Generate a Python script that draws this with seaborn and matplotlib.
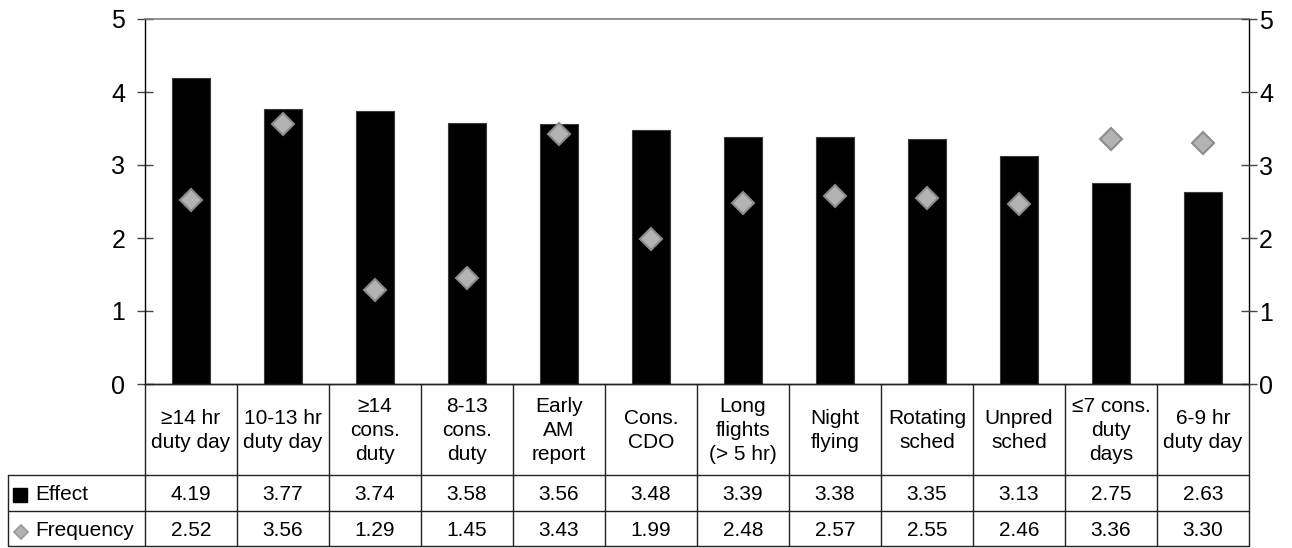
import matplotlib
matplotlib.use("Agg")
import matplotlib.pyplot as plt
import seaborn as sns
import numpy as np
import pandas as pd
from matplotlib.patches import Rectangle

categories = ["≥14 hr\nduty day", "10-13 hr\nduty day", "≥14\ncons.\nduty", "8-13\ncons.\nduty",
              "Early\nAM\nreport", "Cons.\nCDO", "Long\nflights\n(> 5 hr)", "Night\nflying",
              "Rotating\nsched", "Unpred\nsched", "≤7 cons.\nduty\ndays", "6-9 hr\nduty day"]
effect = [4.19, 3.77, 3.74, 3.58, 3.56, 3.48, 3.39, 3.38, 3.35, 3.13, 2.75, 2.63]
frequency = [2.52, 3.56, 1.29, 1.45, 3.43, 1.99, 2.48, 2.57, 2.55, 2.46, 3.36, 3.30]
series_names = ["Effect", "Frequency"]
yticks = [0, 1, 2, 3, 4, 5]

sns.set_style("white")
plt.rcParams['font.family'] = ['Liberation Sans', 'DejaVu Sans']
plt.rcParams['text.color'] = 'black'
plt.rcParams['ytick.labelcolor'] = 'black'

W, H = 1292, 548
fig = plt.figure(figsize=(W / 100, H / 100), dpi=100)

# pixel layout
ax_l, ax_r, ax_t, ax_b = 145, 1249, 19, 384
ax = fig.add_axes([ax_l / W, 1 - ax_b / H, (ax_r - ax_l) / W, (ax_b - ax_t) / H])

df = pd.DataFrame({"cat": categories, "effect": effect, "freq": frequency})
n = len(categories)

sns.barplot(data=df, x="cat", y="effect", order=categories, color="black", saturation=1,
            width=0.42, edgecolor="#3a3a3a", linewidth=0.8, ax=ax)
sns.pointplot(data=df, x="cat", y="freq", order=categories, linestyle="none", marker="D",
              markersize=11.5, color="#b3b3b3", markeredgecolor="#8c8c8c",
              markeredgewidth=1.5, errorbar=None, ax=ax)
for c in ax.collections + ax.lines:
    c.set_zorder(5)

ax.set_xlim(-0.5, n - 0.5)
ax.set_ylim(0, 5)
ax.set_yticks(yticks)
ax.set_xticks([])
ax.set_xlabel("")
ax.set_ylabel("")
ax.tick_params(axis="y", direction="inout", length=11.5, width=1, color="#444444",
               labelsize=18, labelcolor="black", pad=8.5, left=True)
for s in ["left", "right", "bottom"]:
    ax.spines[s].set_color("black")
    ax.spines[s].set_linewidth(1)
ax.spines["top"].set_color("#808080")
ax.spines["top"].set_linewidth(1.2)

ax2 = ax.twinx()
ax2.set_ylim(0, 5)
ax2.set_yticks(yticks)
ax2.tick_params(axis="y", direction="inout", length=11.5, width=1, color="#444444",
                labelsize=18, labelcolor="black", pad=1.5, right=True)
for s in ax2.spines.values():
    s.set_visible(False)

# ---- data table below ----
tbl_left, tbl_bot = 8, 546
row_y = [384, 475, 511, 546]
tax = fig.add_axes([tbl_left / W, 1 - tbl_bot / H, (ax_r - tbl_left) / W, (tbl_bot - ax_b) / H])
colw = (ax_r - ax_l) / n
x_left = -0.5 - (ax_l - tbl_left) / colw
tax.set_xlim(x_left, n - 0.5)
tax.set_ylim(tbl_bot, ax_b)
tax.axis("off")
lc = "#222222"
lw = 1.0
for i in range(n + 1):
    tax.plot([i - 0.5, i - 0.5], [row_y[0], row_y[3]], color=lc, lw=lw, clip_on=False)
tax.plot([x_left, x_left], [row_y[1], row_y[3]], color=lc, lw=lw, clip_on=False)
tax.plot([-0.5, n - 0.5], [row_y[0], row_y[0]], color=lc, lw=lw, clip_on=False)
for yy in row_y[1:]:
    tax.plot([x_left, n - 0.5], [yy, yy], color=lc, lw=lw, clip_on=False)

fs = 15
for i, cat in enumerate(categories):
    tax.text(i, (row_y[0] + row_y[1]) / 2 + 1, cat, ha="center", va="center", fontsize=fs,
             linespacing=1.32)
    tax.text(i, (row_y[1] + row_y[2]) / 2 + 2, f"{effect[i]:.2f}", ha="center", va="center", fontsize=fs)
    tax.text(i, (row_y[2] + row_y[3]) / 2 + 2, f"{frequency[i]:.2f}", ha="center", va="center", fontsize=fs)

# row labels with legend keys
tax.add_patch(Rectangle((x_left + 5 / colw, (row_y[1] + row_y[2]) / 2 - 5), 14 / colw, 14,
                        facecolor="black", edgecolor="black", clip_on=False))
tax.plot([x_left + 12.5 / colw], [(row_y[2] + row_y[3]) / 2 + 3], marker="D", markersize=7.5,
         color="#b3b3b3", markeredgecolor="#9a9a9a", markeredgewidth=1.2, clip_on=False)
tax.text(x_left + 27 / colw, (row_y[1] + row_y[2]) / 2 + 2, series_names[0], ha="left",
         va="center", fontsize=fs)
tax.text(x_left + 27 / colw, (row_y[2] + row_y[3]) / 2 + 2, series_names[1], ha="left",
         va="center", fontsize=fs)

fig.savefig("out.png", dpi=100)
